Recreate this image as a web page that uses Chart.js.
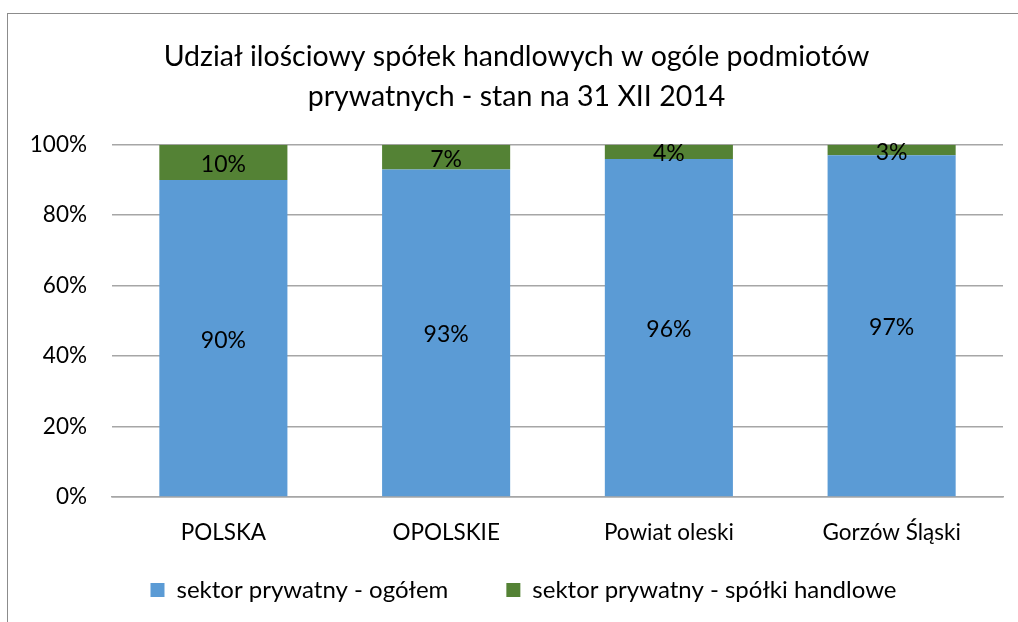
<!DOCTYPE html>
<html>
<head>
<meta charset="utf-8">
<script src="https://cdn.jsdelivr.net/npm/chart.js@4.4.1/dist/chart.umd.min.js"></script>
<style>
  html, body { margin: 0; padding: 0; background: #fff; overflow: hidden; }
  #frame { position: absolute; left: 7px; top: 13px; width: 1100px; height: 700px; border: 1.5px solid #8c8c8c; box-sizing: border-box; }
  #wrap { position: absolute; left: 0; top: 0; width: 1018px; height: 622px; }
</style>
</head>
<body>
<div id="frame"></div>
<div id="wrap"><canvas id="c" width="1018" height="622"></canvas></div>
<script>
const categories = ['POLSKA', 'OPOLSKIE', 'Powiat oleski', 'Gorzów Śląski'];
const sektorOgolem = [90, 93, 96, 97];
const spolkiHandlowe = [10, 7, 4, 3];
const yTicks = [0, 20, 40, 60, 80, 100];
const titleLines = ['Udział ilościowy spółek handlowych w ogóle podmiotów', 'prywatnych - stan na 31 XII 2014'];
const seriesNames = ['sektor prywatny - ogółem', 'sektor prywatny - spółki handlowe'];

const FONT = 'Lato, "Open Sans", sans-serif';

// Data value labels centred in each stacked segment
const valueLabels = {
  id: 'valueLabels',
  afterDatasetsDraw(chart) {
    const ctx = chart.ctx;
    ctx.save();
    ctx.font = '23px ' + FONT;
    ctx.fillStyle = '#000';
    ctx.textAlign = 'center';
    ctx.textBaseline = 'middle';
    chart.data.datasets.forEach((ds, i) => {
      const meta = chart.getDatasetMeta(i);
      meta.data.forEach((bar, j) => {
        const y = (bar.y + bar.base) / 2 + 2;
        ctx.fillText(ds.data[j] + '%', bar.x, y);
      });
    });
    ctx.restore();
  }
};

// Fine placement of title and legend boxes after Chart.js layout
const placeBoxes = {
  id: 'placeBoxes',
  afterLayout(chart) {
    const lg = chart.legend;
    if (lg) {
      const h = lg.height;
      lg.top = 520; lg.bottom = 520 + h;
      lg.left += 22; lg.right += 22;
    }
    const tb = chart.titleBlock;
    if (tb) { tb.left += 15; tb.right += 15; }
  }
};

new Chart(document.getElementById('c'), {
  type: 'bar',
  data: {
    labels: categories,
    datasets: [
      { label: seriesNames[0], data: sektorOgolem, backgroundColor: '#5b9bd5', barPercentage: 0.575, categoryPercentage: 1 },
      { label: seriesNames[1], data: spolkiHandlowe, backgroundColor: '#548235', barPercentage: 0.575, categoryPercentage: 1 }
    ]
  },
  options: {
    responsive: false,
    animation: false,
    devicePixelRatio: 1,
    layout: { padding: { left: 0, right: 15, top: 0, bottom: -22 } },
    plugins: {
      title: {
        display: true,
        text: titleLines,
        color: '#000',
        font: { family: FONT, size: 28.5, weight: 'normal', lineHeight: 1.4 },
        padding: { top: 37, bottom: 28 }
      },
      legend: {
        display: true,
        position: 'bottom',
        labels: {
          color: '#000',
          font: { family: FONT, size: 24 },
          boxWidth: 14,
          boxHeight: 14,
          padding: 58
        }
      },
      tooltip: { enabled: false }
    },
    scales: {
      x: {
        stacked: true,
        afterFit(scale) { scale.height = 55; },
        grid: { display: false, drawTicks: false },
        border: { display: true, color: '#a6a6a6', width: 1.5 },
        ticks: { color: '#000', font: { family: FONT, size: 22.5 }, padding: 22.5 }
      },
      y: {
        stacked: true,
        min: 0,
        max: 100,
        afterBuildTicks(scale) { scale.ticks = yTicks.map(v => ({ value: v })); },
        afterFit(scale) { scale.width = 112; },
        grid: { color: '#a6a6a6', lineWidth: 1.5, drawTicks: false },
        border: { display: false },
        ticks: { color: '#000', font: { family: FONT, size: 22.5 }, padding: 25, callback: v => v + '%' }
      }
    }
  },
  plugins: [valueLabels, placeBoxes]
});
</script>
</body>
</html>
